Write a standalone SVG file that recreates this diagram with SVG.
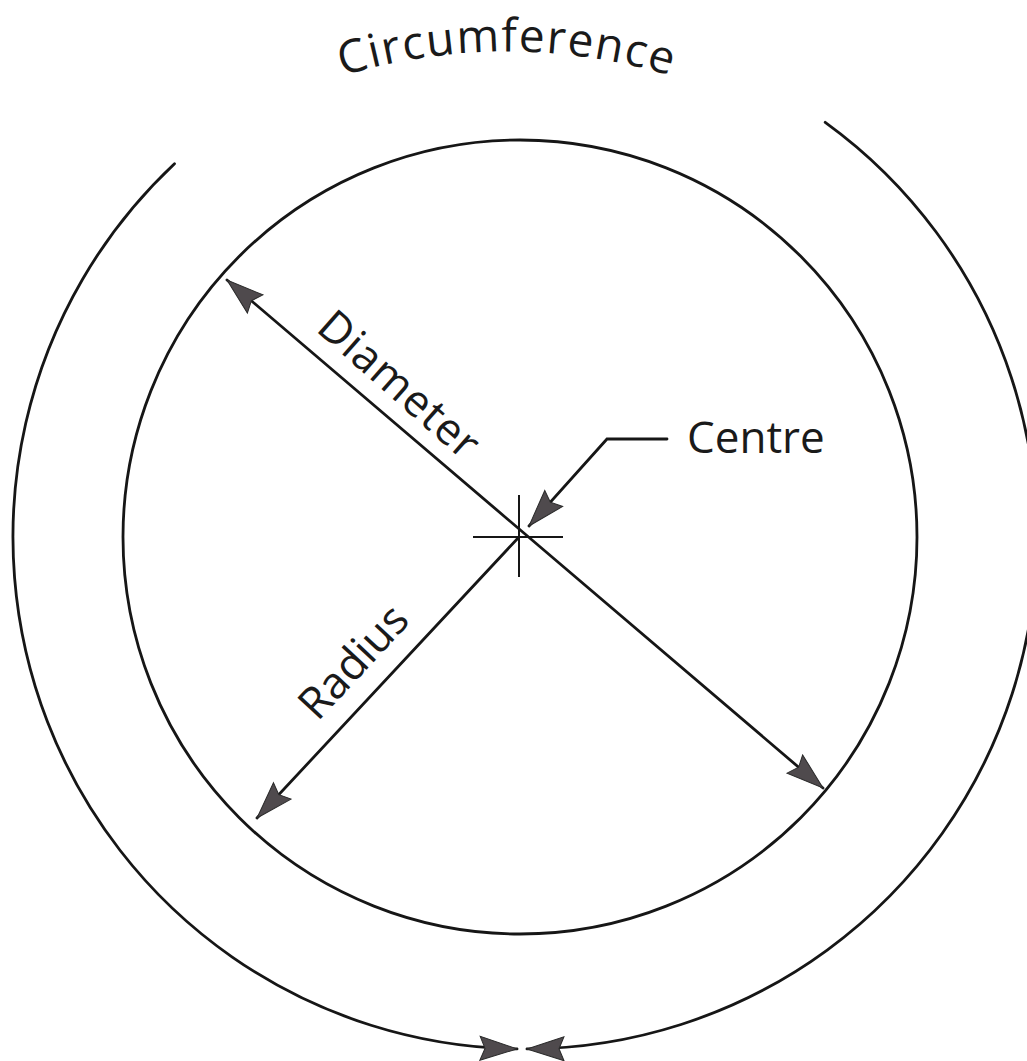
<svg xmlns="http://www.w3.org/2000/svg" width="1027" height="1061" viewBox="0 0 1027 1061">
  <style>
    .ln { fill: none; stroke: #161616; stroke-width: 2.8; stroke-linecap: round; }
    .thin { fill: none; stroke: #161616; stroke-width: 2; }
    .lbl { font-family: "Open Sans", "Liberation Sans", sans-serif; font-size: 44px; fill: #1a1a1a; }
    .ah { fill: #4f4a4d; stroke: #2a2a2a; stroke-width: 1; stroke-linejoin: miter; }
  </style>
  <defs>
    <marker id="arr" markerUnits="userSpaceOnUse" markerWidth="50" markerHeight="40" refX="0" refY="0" viewBox="-40 -20 50 40" orient="auto-start-reverse" overflow="visible">
      <path class="ah" d="M0,0 L-37,-12 L-32,0 L-37,12 Z"/>
    </marker>
    <path id="circPath" d="M17.7,334 A565,565 0 0 1 996.3,334"/>
  </defs>
  <rect width="1027" height="1061" fill="#ffffff"/>

  <g id="circle">
    <circle class="ln" cx="520" cy="537" r="397"/>
  </g>

  <g id="centre-mark">
    <line class="thin" x1="473" y1="537" x2="563" y2="537"/>
    <line class="thin" x1="519" y1="495" x2="519" y2="577"/>
  </g>

  <g id="connectors">
    <path id="circ-left" class="ln" d="M174.5,163.7 A512,512 0 0 0 517,1048.9" marker-end="url(#arr)"/>
    <path id="circ-right" class="ln" d="M825.2,122.3 A512,512 0 0 1 527,1048.9" marker-end="url(#arr)"/>
    <line id="diameter" class="ln" x1="227" y1="280" x2="823" y2="788" marker-start="url(#arr)" marker-end="url(#arr)"/>
    <line id="radius" class="ln" x1="519" y1="537" x2="257" y2="818" marker-end="url(#arr)"/>
    <polyline id="centre-leader" class="ln" points="667,439 607,439 529,526" marker-end="url(#arr)"/>
  </g>

  <g id="label-circumference">
    <text class="lbl" style="font-size:46px" letter-spacing="1.5"><textPath href="#circPath" startOffset="50%" text-anchor="middle">Circumference</textPath></text>
  </g>
  <g id="label-diameter">
    <text class="lbl" transform="translate(519,537) rotate(41.4)" x="-290" y="-20" letter-spacing="1">Diameter</text>
  </g>
  <g id="label-radius">
    <text class="lbl" transform="translate(519,537) rotate(-47)" x="-273" y="-21">Radius</text>
  </g>
  <g id="label-centre">
    <text class="lbl" x="687" y="453">Centre</text>
  </g>
</svg>
